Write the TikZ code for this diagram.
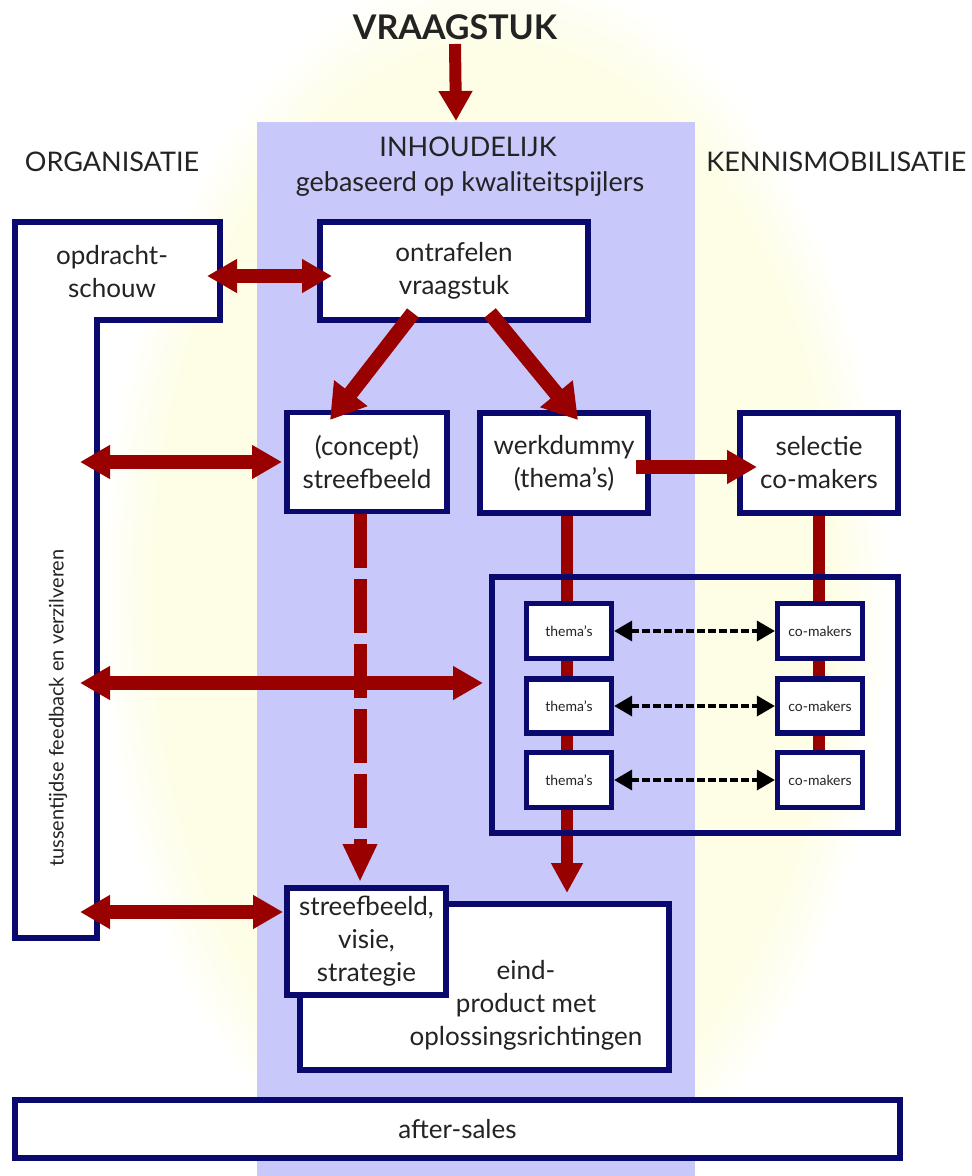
\documentclass[tikz,border=0pt]{standalone}
\usepackage{fontspec}
\setmainfont{Lato}
\usetikzlibrary{arrows.meta}
\definecolor{dred}{RGB}{153,0,0}
\definecolor{navy}{RGB}{10,10,110}
\definecolor{band}{RGB}{200,200,250}
\definecolor{glowc}{RGB}{254,254,230}
\definecolor{txt}{RGB}{35,35,35}
\begin{document}
\begin{tikzpicture}[x=0.5pt,y=-0.5pt,
  sz/.style 2 args={minimum width={#1*0.5pt}, minimum height={#2*0.5pt}},
  box/.style={draw=navy, line width=2.6pt, fill=white, inner sep=0pt, align=center,
    font=\fontsize{13}{16.5}\selectfont, text=txt},
  small/.style={font=\fontsize{7}{8}\selectfont},
  lbl/.style={align=center, inner sep=0pt, font=\fontsize{13}{16.5}\selectfont, text=txt},
  hdr/.style={inner sep=0pt, font=\fontsize{13.5}{15}\selectfont, text=txt},
  ar/.style={draw=dred, line width=7pt, -{Triangle[length=15pt,width=16pt]}},
  dbl/.style={draw=dred, line width=7pt, {Triangle[length=15pt,width=16pt]}-{Triangle[length=15pt,width=16pt]}},
  diag/.style={draw=dred, line width=7.5pt, -{Triangle[length=17pt,width=20pt]}},
  vline/.style={draw=dred, line width=6pt},
  vtip/.style={draw=dred, line width=6pt, -{Triangle[length=15pt,width=15pt]}},
  dashred/.style={draw=dred, line width=6.5pt, dash pattern=on 27pt off 5.5pt, -{Triangle[length=19pt,width=16pt]}},
  blk/.style={draw=black, line width=1.75pt, dash pattern=on 4pt off 1.5pt,
    {Triangle[length=9pt,width=10pt]}-{Triangle[length=9pt,width=10pt]}}
]
\useasboundingbox (0,0) rectangle (971,1176);
\fill[white] (0,0) rectangle (971,1176);
% soft yellow glow
\foreach \k in {0,...,12}{
  \pgfmathsetmacro{\pc}{100*\k/12}
  \pgfmathsetmacro{\rx}{200-2.5*\k}
  \pgfmathsetmacro{\ry}{320-3.8*\k}
  \fill[glowc!\pc!white] (495,595) ellipse [x radius=\rx pt, y radius=\ry pt];
}
\fill[band] (257,122) rectangle (695,1176);

% headings
\node[font=\bfseries\fontsize{17}{20}\selectfont, text=txt, inner sep=0pt] (vr) at (455,27) {VRAAGSTUK};
\coordinate (bandtop) at (456,121);
\node[hdr] (org) at (112,162) {ORGANISATIE};
\node[hdr] (inh) at (468,147) {INHOUDELIJK};
\node[hdr] (geb) at (470,184) {gebaseerd op kwaliteitspijlers};
\node[hdr, anchor=west] (ken) at (706,162) {KENNISMOBILISATIE};

% vertical connectors behind boxes
\coordinate (wdtip) at (567,893);
\coordinate (sbtip) at (360,882);
\draw[vtip] (wdtip |- 0,513) -- (wdtip);

% L-shaped organisation box
\draw[navy, line width=2.6pt, fill=white] (15,222) -- (220,222) -- (220,320) -- (97,320) -- (97,938) -- (15,938) -- cycle;
\node[lbl] (opd) at (112,272) {opdracht-\\schouw};
\node[rotate=90, inner sep=0pt, font=\fontsize{10}{11}\selectfont, text=txt] (tus) at (58,708) {tussentijdse feedback en verzilveren};

% boxes
\node[box, sz={268}{98}] (ontr) at (454,271) {ontrafelen\\vraagstuk};
\node[box, sz={160}{99}] (sb) at (367,462) {(concept)\\streefbeeld};
\node[box, sz={168}{100}] (wd) at (564,463) {werkdummy\\(thema’s)};
\node[box, sz={158}{100}] (sel) at (819,463) {selectie\\co-makers};
\draw[vline] (sel.south) -- (819,780);
\node[draw=navy, line width=2.6pt, sz={406}{256}, inner sep=0pt] (cont) at (695,705) {};
\node[box, small, sz={85}{55}] (th1) at (569,631) {thema’s};
\node[box, small, sz={85}{54}] (th2) at (569,706) {thema’s};
\node[box, small, sz={85}{55}] (th3) at (569,780) {thema’s};
\node[box, small, sz={85}{55}] (cm1) at (820,631) {co-makers};
\node[box, small, sz={85}{54}] (cm2) at (820,706) {co-makers};
\node[box, small, sz={85}{55}] (cm3) at (820,780) {co-makers};
\node[box, sz={369}{166}] (eind) at (484.5,987) {};
\node[lbl] (eindt) at (526,1005) {eind-\\product met\\oplossingsrichtingen};
\node[box, sz={159}{107}] (svs) at (366.5,941.5) {streefbeeld,\\visie,\\strategie};
\node[box, sz={885}{58}] (after) at (457.5,1129) {after-sales};

% dashed arrow from concept streefbeeld
\draw[dashred] (sbtip |- sb.south) -- (sbtip);

% arrows
\draw[ar, line width=6pt, -{Triangle[length=15pt,width=16pt]}] (vr.south |- 0,44) -- (bandtop);
\coordinate (opdR) at (207,276);
\coordinate (ontrL) at (332,276);
\draw[dbl] (opdR) -- (ontrL);
\coordinate (ontrA) at (413,313);
\coordinate (ontrB) at (490,313);
\coordinate (sbT) at (330,420);
\coordinate (wdT) at (578,420);
\draw[diag] (ontrA) -- (sbT);
\draw[diag] (ontrB) -- (wdT);
\coordinate (wdR) at (636,467);
\coordinate (selL) at (757,467);
\draw[ar] (wdR) -- (selL);

\coordinate (b1) at (80,462);
\coordinate (b2) at (80,683);
\coordinate (b3) at (80,912);
\draw[dbl] (b1) -- (282,462) coordinate (sbL);
\draw[dbl] (b2) -- (483,683) coordinate (contL);
\draw[dbl] (b3) -- (283,912) coordinate (svsL);

\draw[blk] (th1.east) -- (cm1.west);
\draw[blk] (th2.east) -- (cm2.west);
\draw[blk] (th3.east) -- (cm3.west);
\end{tikzpicture}
\end{document}
